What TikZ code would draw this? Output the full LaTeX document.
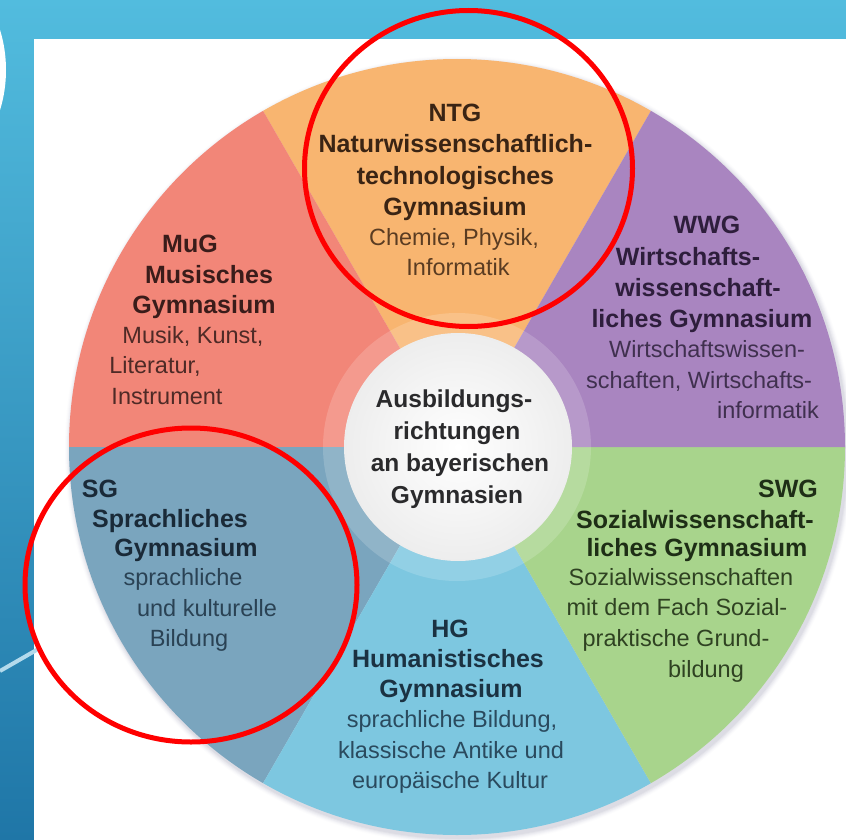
\documentclass[tikz,border=0pt]{standalone}
\usepackage{fontspec}
\setmainfont{Liberation Sans}
\definecolor{cMuG}{HTML}{F28678}
\definecolor{cNTG}{HTML}{F8B570}
\definecolor{cWWG}{HTML}{A985C0}
\definecolor{cSWG}{HTML}{A8D48C}
\definecolor{cHG}{HTML}{7DC7E0}
\definecolor{cSG}{HTML}{7AA5BE}
\definecolor{bgTop}{HTML}{52BCDE}
\definecolor{bgBot}{HTML}{1F76A7}
\definecolor{lineblue}{HTML}{B3DAEC}
\definecolor{tMuG}{HTML}{3A1C1A}
\definecolor{rMuG}{HTML}{4E2A26}
\definecolor{tNTG}{HTML}{3A2414}
\definecolor{rNTG}{HTML}{5A3C22}
\definecolor{tWWG}{HTML}{2E1E3C}
\definecolor{rWWG}{HTML}{40304F}
\definecolor{tSWG}{HTML}{1E2E16}
\definecolor{rSWG}{HTML}{2F4222}
\definecolor{tHG}{HTML}{1B3242}
\definecolor{rHG}{HTML}{2A4A5E}
\definecolor{tSG}{HTML}{1A2A38}
\definecolor{rSG}{HTML}{2A4254}
\definecolor{tC}{HTML}{2A2A2C}
\begin{document}
\begin{tikzpicture}[x=1pt,y=-1pt,
  bt/.style={font=\fontsize{25}{28}\selectfont\bfseries, anchor=base, inner sep=0pt},
  ct/.style={font=\fontsize{24.5}{28}\selectfont\bfseries, anchor=base, inner sep=0pt},
  rt/.style={font=\fontsize{23.5}{28}\selectfont, anchor=base, inner sep=0pt},
  redring/.style={draw=red, line width=5pt}]
\useasboundingbox (0,0) rectangle (846,840);
% background
\shade[top color=bgTop, bottom color=bgBot] (0,0) rectangle (846,840);
\fill[white] (34,39) rectangle (846,840);
\fill[white] (-130.5,70) circle[radius=136.5];
\coordinate (l1) at (0,671);
\coordinate (l2) at (40,648);
\draw[lineblue, line width=4pt] (l1) -- (l2);
% pie
\coordinate (c) at (457,447);
\foreach \i/\o in {1/0.06,2/0.05,3/0.04,4/0.03,5/0.02,6/0.015}
  \fill[black!45!blue!30!gray, opacity=\o] (459,450) circle[radius=388+\i];
\begin{scope}
\clip (c) circle[radius=388];
\fill[cNTG] (c) -- (757,-73) -- (157,-73) -- cycle;
\fill[cMuG] (c) -- (157,-73) -- (-143,447) -- cycle;
\fill[cSG] (c) -- (-143,447) -- (157,967) -- cycle;
\fill[cHG] (c) -- (157,967) -- (757,967) -- cycle;
\fill[cSWG] (c) -- (757,967) -- (1057,447) -- cycle;
\fill[cWWG] (c) -- (1057,447) -- (757,-73) -- cycle;
\end{scope}
% centre
\fill[white, opacity=0.17] (c) circle[radius=134];
\shade[inner color=white, outer color=black!7] (458,447) circle[radius=114];
% NTG
\node[bt, tNTG] (ntg1) at (455,122) {NTG};
\node[bt, tNTG] (ntg2) at (455.5,153) {Naturwissenschaftlich-};
\node[bt, tNTG] (ntg3) at (455.5,184) {technologisches};
\node[bt, tNTG] (ntg4) at (455,215) {Gymnasium};
\node[rt, rNTG] (ntg5) at (454,245) {Chemie, Physik,};
\node[rt, rNTG] (ntg6) at (458,275) {Informatik};
% MuG
\node[bt, tMuG] (mug1) at (190,252) {MuG};
\node[bt, tMuG] (mug2) at (209,283) {Musisches};
\node[bt, tMuG] (mug3) at (204,313) {Gymnasium};
\node[rt, rMuG] (mug4) at (193,343) {Musik, Kunst,};
\node[rt, rMuG] (mug5) at (155,373) {Literatur,};
\node[rt, rMuG] (mug6) at (167,404) {Instrument};
% WWG
\node[bt, tWWG] (wwg1) at (707,233) {WWG};
\node[bt, tWWG] (wwg2) at (688,265) {Wirtschafts-};
\node[bt, tWWG] (wwg3) at (698,296) {wissenschaft-};
\node[bt, tWWG] (wwg4) at (702,327) {liches Gymnasium};
\node[rt, rWWG] (wwg5) at (707,357) {Wirtschaftswissen-};
\node[rt, rWWG] (wwg6) at (699,388) {schaften, Wirtschafts-};
\node[rt, rWWG] (wwg7) at (768,418) {informatik};
% SWG
\node[bt, tSWG] (swg1) at (788,497) {SWG};
\node[bt, tSWG] (swg2) at (695,528) {Sozialwissenschaft-};
\node[bt, tSWG] (swg3) at (697,556) {liches Gymnasium};
\node[rt, rSWG] (swg4) at (681,585) {Sozialwissenschaften};
\node[rt, rSWG] (swg5) at (677,615) {mit dem Fach Sozial-};
\node[rt, rSWG] (swg6) at (676,646) {praktische Grund-};
\node[rt, rSWG] (swg7) at (706,677) {bildung};
% SG
\node[bt, tSG] (sg1) at (100,497) {SG};
\node[bt, tSG] (sg2) at (170,527) {Sprachliches};
\node[bt, tSG] (sg3) at (186,556) {Gymnasium};
\node[rt, rSG] (sg4) at (183,585) {sprachliche};
\node[rt, rSG] (sg5) at (207,616) {und kulturelle};
\node[rt, rSG] (sg6) at (189,646) {Bildung};
% HG
\node[bt, tHG] (hg1) at (450,637) {HG};
\node[bt, tHG] (hg2) at (448,667) {Humanistisches};
\node[bt, tHG] (hg3) at (451,697) {Gymnasium};
\node[rt, rHG] (hg4) at (452,727) {sprachliche Bildung,};
\node[rt, rHG] (hg5) at (451,758) {klassische Antike und};
\node[rt, rHG] (hg6) at (450,788) {europäische Kultur};
% centre text
\node[ct, tC] (cen1) at (454,407) {Ausbildungs-};
\node[ct, tC] (cen2) at (457,439) {richtungen};
\node[ct, tC] (cen3) at (460,471) {an bayerischen};
\node[ct, tC] (cen4) at (457,503) {Gymnasien};
% red highlight rings
\draw[redring] (468.5,168.5) ellipse[x radius=164, y radius=158];
\draw[redring] (191,585) ellipse[x radius=166, y radius=157];
\end{tikzpicture}
\end{document}
